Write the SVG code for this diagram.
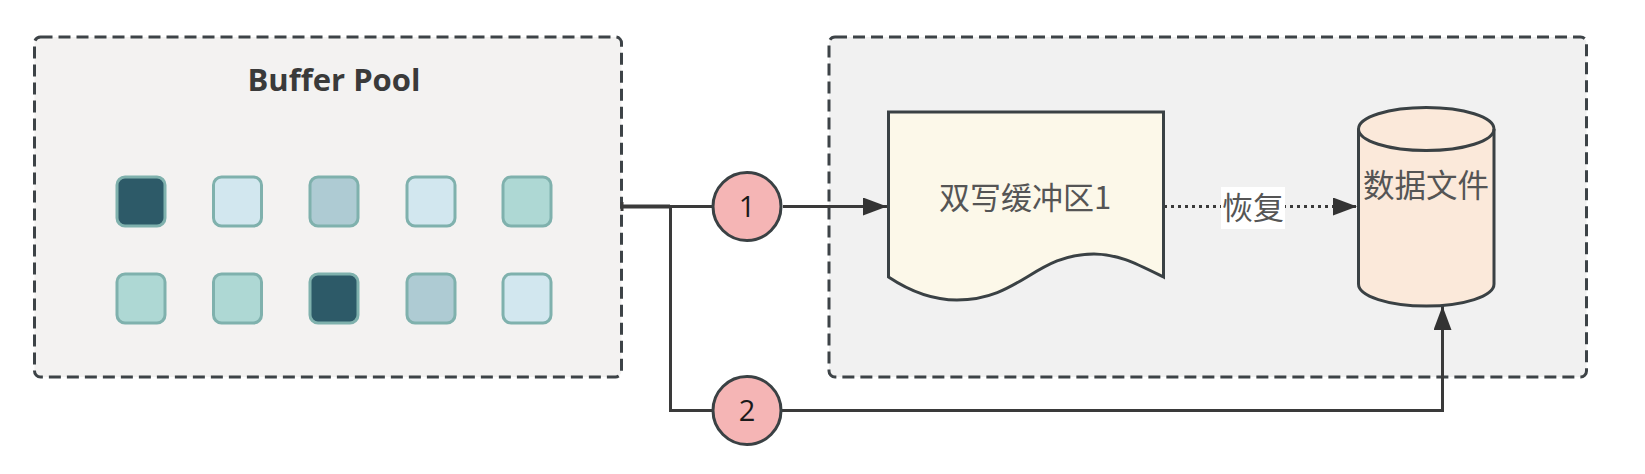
<svg xmlns="http://www.w3.org/2000/svg" width="1645" height="474" viewBox="0 0 1645 474">
<style>
.grp{stroke:#3d4347;stroke-width:3;stroke-dasharray:12 6}
.sq{stroke:#7fb1ad;stroke-width:3}
.dark{fill:#2d5a68}.pale{fill:#d2e7ef}.blue{fill:#aecbd3}.teal{fill:#aed8d4}
.ln{fill:none;stroke:#3a3a3a;stroke-width:3}
.shape{stroke:#3a4144;stroke-width:3}
.cjk{font-family:"Noto Sans CJK SC","Liberation Sans",sans-serif;fill:#555;text-anchor:middle}
.num{font-family:"Open Sans","Liberation Sans",sans-serif;font-size:29px;fill:#1a1a1a;text-anchor:middle}
</style>
<defs><marker id="arr" markerUnits="userSpaceOnUse" markerWidth="26" markerHeight="20" refX="24" refY="9" orient="auto"><path d="M0 0L24 9L0 18Z" fill="#333"/></marker></defs>
<rect width="1645" height="474" fill="#fff"/>
<g id="buffer-pool">
<rect class="grp" x="34.5" y="37" width="587" height="340" rx="6" fill="#f3f2f1"/>
<text x="334" y="91" font-family="'Open Sans','Noto Sans',sans-serif" font-size="31" font-weight="700" fill="#3a3a3a" text-anchor="middle">Buffer Pool</text>
<rect class="sq dark" x="117" y="177" width="48" height="49" rx="8"/>
<rect class="sq pale" x="213.5" y="177" width="48" height="49" rx="8"/>
<rect class="sq blue" x="310" y="177" width="48" height="49" rx="8"/>
<rect class="sq pale" x="407" y="177" width="48" height="49" rx="8"/>
<rect class="sq teal" x="503" y="177" width="48" height="49" rx="8"/>
<rect class="sq teal" x="117" y="274" width="48" height="49" rx="8"/>
<rect class="sq teal" x="213.5" y="274" width="48" height="49" rx="8"/>
<rect class="sq dark" x="310" y="274" width="48" height="49" rx="8"/>
<rect class="sq blue" x="407" y="274" width="48" height="49" rx="8"/>
<rect class="sq pale" x="503" y="274" width="48" height="49" rx="8"/>
</g>
<g id="storage"><rect class="grp" x="829" y="37" width="757.5" height="340" rx="6" fill="#f1f1f1"/></g>
<g id="connectors">
<path class="ln" d="M623 206.5H713M783 206.5H887" marker-end="url(#arr)"/>
<path class="ln" d="M623 206.5H670" style="stroke-width:4"/>
<path class="ln" d="M670.5 206.5V410.5H713"/>
<path class="ln" d="M781 410.5H1442.5V306" marker-end="url(#arr)"/>
<path class="ln" d="M622 202V211"/>
<path class="ln" d="M1164 206.5H1357" stroke-dasharray="3 4" marker-end="url(#arr)"/>
</g>
<g id="doublewrite-buffer">
<path class="shape" fill="#fcf8e9" d="M888.5 112H1163.5V277C1135 263 1118 254 1094 254C1035 254 1020 300 957 300C930 300 908 290 888.5 277Z"/>
<text class="cjk" x="1025" y="209" font-size="31">双写缓冲区1</text>
</g>
<g id="recover-label">
<rect x="1221" y="187" width="64" height="42" fill="#fff"/>
<text class="cjk" x="1253" y="219" font-size="31">恢复</text>
</g>
<g id="data-file">
<path class="shape" fill="#fbe9da" d="M1358.5 129A67.5 21.5 0 0 1 1494 129V284A67.5 22 0 0 1 1358.5 284Z"/>
<path class="shape" fill="none" d="M1358.5 129A67.5 21.5 0 0 0 1494 129"/>
<text class="cjk" x="1426" y="197" font-size="31.5">数据文件</text>
</g>
<g id="step-1"><circle class="shape" cx="747" cy="206.5" r="34" fill="#f5b5b5"/><text class="num" x="747" y="217">1</text></g>
<g id="step-2"><circle class="shape" cx="747" cy="410.5" r="34" fill="#f5b5b5"/><text class="num" x="747" y="421">2</text></g>
</svg>
